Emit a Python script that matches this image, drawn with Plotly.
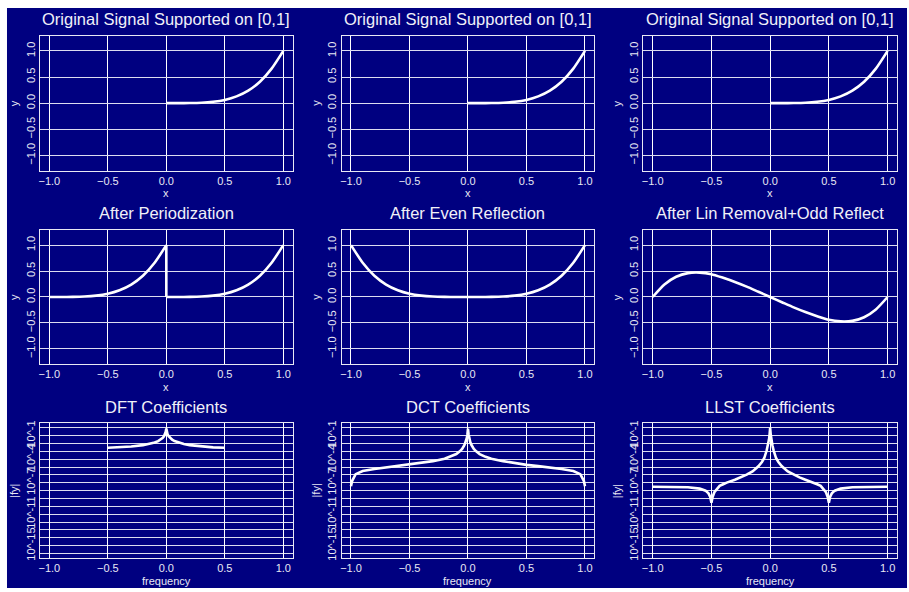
import plotly.graph_objects as go

W, H = 909, 592
NAVY = "#000080"
GRIDV = "#ffffff"
GRIDH = "#dcdcf0"
FONT = "Liberation Sans, Arial, Helvetica, sans-serif"

# ---------------- data ----------------
sig_x = [0.0, 0.1, 0.2, 0.3, 0.4, 0.5, 0.6, 0.7, 0.8, 0.9, 1.0]
sig_y = [0.0, 0.0, 0.002, 0.008, 0.026, 0.062, 0.13, 0.24, 0.41, 0.66, 1.0]

per_left_x = [-1.0, -0.9, -0.8, -0.7, -0.6, -0.5, -0.4, -0.3, -0.2, -0.1, 0.0]
per_left_y = [0.0, 0.0, 0.002, 0.008, 0.026, 0.062, 0.13, 0.24, 0.41, 0.66, 1.0]
per_jump_x = [0.0, 0.0]
per_jump_y = [1.0, 0.0]
per_right_x = [0.0, 0.1, 0.2, 0.3, 0.4, 0.5, 0.6, 0.7, 0.8, 0.9, 1.0]
per_right_y = [0.0, 0.0, 0.002, 0.008, 0.026, 0.062, 0.13, 0.24, 0.41, 0.66, 1.0]

even_x = [-1.0, -0.9, -0.8, -0.7, -0.6, -0.5, -0.4, -0.3, -0.2, -0.1, 0.0,
          0.1, 0.2, 0.3, 0.4, 0.5, 0.6, 0.7, 0.8, 0.9, 1.0]
even_y = [1.0, 0.66, 0.41, 0.24, 0.13, 0.062, 0.026, 0.008, 0.002, 0.0, 0.0,
          0.0, 0.002, 0.008, 0.026, 0.062, 0.13, 0.24, 0.41, 0.66, 1.0]

odd_x = [-1.0, -0.9, -0.8, -0.7, -0.6, -0.5, -0.4, -0.3, -0.2, -0.1, 0.0,
         0.1, 0.2, 0.3, 0.4, 0.5, 0.6, 0.7, 0.8, 0.9, 1.0]
odd_y = [0.0, 0.24, 0.39, 0.46, 0.47, 0.44, 0.37, 0.29, 0.20, 0.10, 0.0,
         -0.10, -0.20, -0.29, -0.37, -0.44, -0.47, -0.46, -0.39, -0.24, 0.0]

dft_f = [-0.5, -0.4, -0.3, -0.2, -0.15, -0.1, -0.07, -0.05, -0.03, -0.02, -0.01, -0.005, 0.0,
         0.005, 0.01, 0.02, 0.03, 0.05, 0.07, 0.1, 0.15, 0.2, 0.3, 0.4, 0.5]
dft_a = [2.8e-3, 3.2e-3, 4.1e-3, 6.1e-3, 8.3e-3, 1.32e-2, 2.0e-2, 3.0e-2, 5.3e-2, 8.2e-2, 0.158, 0.316, 0.794,
         0.316, 0.158, 8.2e-2, 5.3e-2, 3.0e-2, 2.0e-2, 1.32e-2, 8.3e-3, 6.1e-3, 4.1e-3, 3.2e-3, 2.8e-3]

dct_f = [-1.0, -0.99, -0.96, -0.9, -0.8, -0.7, -0.6, -0.5, -0.4, -0.3, -0.2, -0.15, -0.1, -0.07, -0.05,
         -0.03, -0.02, -0.01, -0.005, 0.0, 0.005, 0.01, 0.02, 0.03, 0.05, 0.07, 0.1, 0.15, 0.2, 0.3,
         0.4, 0.5, 0.6, 0.7, 0.8, 0.9, 0.96, 0.99, 1.0]
dct_a = [3.55e-8, 1.78e-7, 1.26e-6, 3.16e-6, 5.62e-6, 8.91e-6, 1.32e-5, 1.91e-5, 3.16e-5, 5.62e-5, 1.12e-4,
         2.0e-4, 4.47e-4, 1.0e-3, 2.0e-3, 6.31e-3, 1.41e-2, 5.01e-2, 0.141, 0.794, 0.141, 5.01e-2, 1.41e-2,
         6.31e-3, 2.0e-3, 1.0e-3, 4.47e-4, 2.0e-4, 1.12e-4, 5.62e-5, 3.16e-5, 1.91e-5, 1.32e-5, 8.91e-6,
         5.62e-6, 3.16e-6, 1.26e-6, 1.78e-7, 3.55e-8]

llst_f = [-1.0, -0.9, -0.8, -0.7, -0.6, -0.55, -0.525, -0.51, -0.5, -0.49, -0.475, -0.455, -0.43, -0.4,
          -0.37, -0.3, -0.25, -0.2, -0.15, -0.1, -0.07, -0.05, -0.03, -0.02, -0.01, -0.005, 0.0,
          0.005, 0.01, 0.02, 0.03, 0.05, 0.07, 0.1, 0.15, 0.2, 0.25, 0.3, 0.37, 0.4, 0.43, 0.455,
          0.475, 0.49, 0.5, 0.51, 0.525, 0.55, 0.6, 0.7, 0.8, 0.9, 1.0]
llst_a = [3.2e-8, 3.2e-8, 3.0e-8, 2.7e-8, 1.8e-8, 1.0e-8, 4.5e-9, 1.58e-9, 3.0e-10, 1.58e-9, 6.31e-9,
          1.6e-8, 4.0e-8, 6.5e-8, 1.05e-7, 2.4e-7, 4.8e-7, 1.1e-6, 2.8e-6, 1.26e-5, 4.47e-5, 1.41e-4,
          1.26e-3, 5.01e-3, 3.16e-2, 0.126, 1.0,
          0.126, 3.16e-2, 5.01e-3, 1.26e-3, 1.41e-4, 4.47e-5, 1.26e-5, 2.8e-6, 1.1e-6, 4.8e-7, 2.4e-7,
          1.05e-7, 6.5e-8, 4.0e-8, 1.6e-8, 6.31e-9, 1.58e-9, 3.0e-10, 1.58e-9, 4.5e-9, 1.0e-8, 1.8e-8,
          2.7e-8, 3.0e-8, 3.2e-8, 3.2e-8]

lin_ticks = [-1.0, -0.5, 0.0, 0.5, 1.0]
lin_labels = ["\u22121.0", "\u22120.5", "0.0", "0.5", "1.0"]
log_ticks = [1e-15, 1e-11, 1e-7, 1e-4, 1e-1]
log_labels = ["10^-15", "10^-11", "10^-7", "10^-4", "10^-1"]
log_grid = [10.0 ** (-k) for k in range(0, 17)]

titles = [
    ["Original Signal Supported on [0,1]", "Original Signal Supported on [0,1]", "Original Signal Supported on [0,1]"],
    ["After Periodization", "After Even Reflection", "After Lin Removal+Odd Reflect"],
    ["DFT Coefficients", "DCT Coefficients", "LLST Coefficients"],
]
series = [
    [[(sig_x, sig_y, "spline")], [(sig_x, sig_y, "spline")], [(sig_x, sig_y, "spline")]],
    [[(per_left_x, per_left_y, "spline"), (per_jump_x, per_jump_y, "linear"),
      (per_right_x, per_right_y, "spline")],
     [(even_x, even_y, "spline")], [(odd_x, odd_y, "spline")]],
    [[(dft_f, dft_a, "linear")], [(dct_f, dct_a, "linear")], [(llst_f, llst_a, "linear")]],
]

# ---------------- layout geometry (pixels) ----------------
cols = [(39, 292), (341, 594), (643, 897)]
rows = [(33, 169), (229, 364), (424, 560)]


def px(x):
    return x / W


def py(y):
    return 1 - y / H


fig = go.Figure()
annotations = []
layout = {}
idx = 0
for r, (top, bot) in enumerate(rows):
    for c, (lft, rgt) in enumerate(cols):
        idx += 1
        sfx = "" if idx == 1 else str(idx)
        for xs, ys, shape in series[r][c]:
            fig.add_trace(go.Scatter(x=xs, y=ys, mode="lines",
                                     line=dict(color="white", width=2.6, shape=shape, smoothing=0.6),
                                     xaxis="x" + sfx, yaxis="y" + sfx, showlegend=False,
                                     hoverinfo="skip"))
        common = dict(showline=True, mirror=True, linecolor="#e8e8f4", linewidth=1,
                      zeroline=False, ticks="", showgrid=True,
                      tickfont=dict(family=FONT, size=11, color="#e8e8f4"))
        layout["xaxis" + sfx] = dict(
            common, domain=[px(lft), px(rgt)], anchor="y" + sfx, range=[-1.08, 1.08],
            tickmode="array", tickvals=lin_ticks, ticktext=lin_labels, gridcolor=GRIDV,
            gridwidth=1)
        if r < 2:
            layout["yaxis" + sfx] = dict(
                common, domain=[py(bot), py(top)], anchor="x" + sfx, range=[-1.29, 1.29],
                tickmode="array", tickvals=lin_ticks, ticktext=lin_labels, tickangle=-90,
                gridcolor=GRIDH, gridwidth=1)
        else:
            layout["yaxis" + sfx] = dict(
                common, domain=[py(bot), py(top)], anchor="x" + sfx, type="log",
                range=[-16.6, 0.55], tickmode="array", tickvals=log_ticks, ticktext=log_labels,
                tickangle=-90, showgrid=False,
                minor=dict(tickmode="array", tickvals=log_grid, showgrid=True,
                           gridcolor=GRIDH, gridwidth=1, ticklen=0))
        cx = (lft + rgt) / 2
        cy = (top + bot) / 2
        annotations.append(dict(text=titles[r][c], x=px(cx), y=py(top - 17), xref="paper",
                                yref="paper", showarrow=False, xanchor="center", yanchor="middle",
                                font=dict(family=FONT, size=16.5, color="#f0f0f8")))
        annotations.append(dict(text="frequency" if r == 2 else "x", x=px(cx), y=py(bot + 23),
                                xref="paper", yref="paper", showarrow=False, xanchor="center",
                                yanchor="middle", font=dict(family=FONT, size=11, color="#e8e8f4")))
        annotations.append(dict(text="|fy|" if r == 2 else "y", x=px(lft - 26), y=py(cy),
                                xref="paper", yref="paper", showarrow=False, textangle=-90,
                                xanchor="center", yanchor="middle",
                                font=dict(family=FONT, size=11, color="#e8e8f4")))

fig.update_layout(
    width=W, height=H, margin=dict(l=0, r=0, t=0, b=0),
    paper_bgcolor="white", plot_bgcolor=NAVY,
    annotations=annotations,
    shapes=[dict(type="rect", xref="paper", yref="paper", x0=px(6), x1=px(907),
                 y0=py(590), y1=py(5), fillcolor=NAVY, line=dict(width=0), layer="below")],
    **layout,
)

fig.write_html("out.html", config={"displayModeBar": False},
               post_script="document.body.style.margin='0';document.body.style.padding='0';")
